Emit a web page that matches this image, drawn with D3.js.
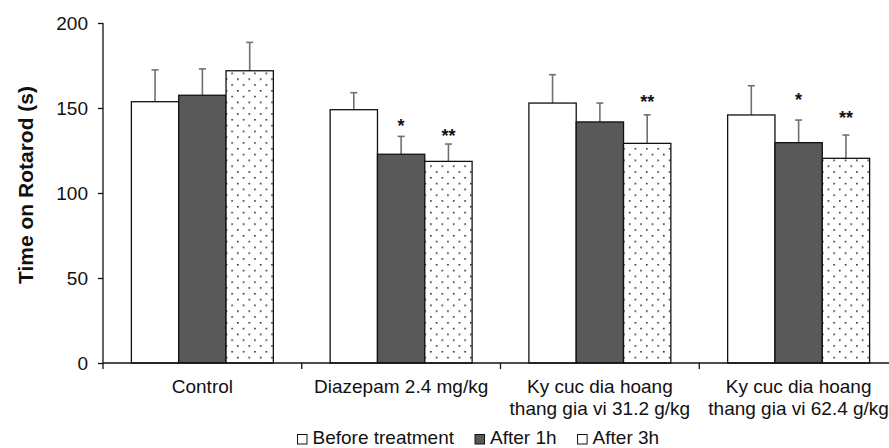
<!DOCTYPE html>
<html>
<head>
<meta charset="utf-8">
<script src="https://cdn.jsdelivr.net/npm/d3@7"></script>
<style>
  html, body { margin: 0; padding: 0; background: #fff; }
  svg { display: block; font-family: "Liberation Sans", Arial, sans-serif; }
</style>
</head>
<body>
<svg id="chart" width="889" height="448"></svg>
<script>
// ---- data ----
const categories = [
  ["Control"],
  ["Diazepam 2.4 mg/kg"],
  ["Ky cuc dia hoang", "thang gia vi 31.2 g/kg"],
  ["Ky cuc dia hoang", "thang gia vi 62.4 g/kg"]
];
const seriesNames = ["Before treatment", "After 1h", "After 3h"];
const beforeValues = [153.7, 149.0, 152.9, 145.9];
const after1hValues = [157.5, 122.8, 141.8, 129.6];
const after3hValues = [171.9, 118.6, 129.2, 120.4];
const beforeErr = [18.7, 10.0, 16.7, 17.2];
const after1hErr = [15.5, 10.5, 11.1, 13.3];
const after3hErr = [16.7, 10.2, 16.8, 13.7];
const after1hSig = ["", "*", "", "*"];
const after3hSig = ["", "**", "**", "**"];
const after1hSigY = [0, 141.8, 0, 157.0];
const after3hSigY = [0, 135.7, 156.0, 146.5];
const yTicks = [0, 50, 100, 150, 200];

const seriesValues = [beforeValues, after1hValues, after3hValues];
const seriesErr = [beforeErr, after1hErr, after3hErr];
const seriesSig = [["", "", "", ""], after1hSig, after3hSig];
const seriesSigY = [[0, 0, 0, 0], after1hSigY, after3hSigY];

// ---- layout ----
const svg = d3.select("#chart");
const mLeft = 103, mRight = 898, mTop = 23, mBottom = 363;
const fontSize = 19;

const x0 = d3.scaleBand().domain(d3.range(categories.length)).range([mLeft, mRight]).paddingInner(0).paddingOuter(0);
const x1 = d3.scaleBand().domain(d3.range(seriesNames.length)).range([0, x0.bandwidth()]).paddingInner(0).paddingOuter(0.6);
const y = d3.scaleLinear().domain([0, 200]).range([mBottom, mTop]);

// pattern
const defs = svg.append("defs");
const pat = defs.append("pattern").attr("id", "dots").attr("patternUnits", "userSpaceOnUse")
  .attr("width", 11.4).attr("height", 11.6).attr("x", 2).attr("y", 2);
pat.append("rect").attr("width", 11.4).attr("height", 11.6).attr("fill", "#fff");
pat.append("rect").attr("x", 1).attr("y", 1).attr("width", 1.5).attr("height", 1.5).attr("fill", "#111");
pat.append("rect").attr("x", 6.7).attr("y", 6.8).attr("width", 1.5).attr("height", 1.5).attr("fill", "#111");

const fills = ["#ffffff", "#595959", "url(#dots)"];
const legendFills = ["#ffffff", "#595959", "#ffffff"];

// bars
const groups = svg.append("g").selectAll("g").data(categories).join("g")
  .attr("transform", (d, i) => `translate(${x0(i)},0)`);

seriesNames.forEach((s, si) => {
  groups.append("line")
    .attr("x1", (d, i) => x1(si) + x1.bandwidth() / 2)
    .attr("x2", (d, i) => x1(si) + x1.bandwidth() / 2)
    .attr("y1", (d, i) => y(seriesValues[si][i]))
    .attr("y2", (d, i) => y(seriesValues[si][i] + seriesErr[si][i]))
    .attr("stroke", "#707070").attr("stroke-width", 1.6);
  groups.append("line")
    .attr("x1", (d, i) => x1(si) + x1.bandwidth() / 2 - 3.5)
    .attr("x2", (d, i) => x1(si) + x1.bandwidth() / 2 + 3.5)
    .attr("y1", (d, i) => y(seriesValues[si][i] + seriesErr[si][i]))
    .attr("y2", (d, i) => y(seriesValues[si][i] + seriesErr[si][i]))
    .attr("stroke", "#707070").attr("stroke-width", 1.6);
});
seriesNames.forEach((s, si) => {
  groups.append("rect")
    .attr("x", x1(si))
    .attr("width", x1.bandwidth())
    .attr("y", (d, i) => y(seriesValues[si][i]))
    .attr("height", (d, i) => y(0) - y(seriesValues[si][i]))
    .attr("fill", fills[si])
    .attr("stroke", "#111").attr("stroke-width", 1.3);
  groups.append("text")
    .attr("x", x1(si) + x1.bandwidth() / 2)
    .attr("y", (d, i) => y(seriesSigY[si][i]) + 10)
    .attr("text-anchor", "middle")
    .attr("font-size", 18).attr("font-weight", "bold").attr("fill", "#111")
    .text((d, i) => seriesSig[si][i]);
});

// y axis
const yAxis = svg.append("g").attr("transform", `translate(${mLeft},0)`)
  .call(d3.axisLeft(y).tickValues(yTicks).tickSize(5).tickPadding(10).tickFormat(d3.format("d")));
yAxis.select(".domain").attr("stroke", "#111").attr("stroke-width", 1.3).attr("d", `M0,${mTop}V${mBottom}`);
yAxis.selectAll(".tick line").attr("stroke", "#111").attr("stroke-width", 1.3);
yAxis.selectAll(".tick text").attr("font-size", fontSize).attr("fill", "#111")
  .attr("font-family", "Liberation Sans, Arial, sans-serif");

// x axis
const xAxis = svg.append("g").attr("transform", `translate(0,${mBottom})`)
  .call(d3.axisBottom(x0).tickSize(0).tickFormat(""));
xAxis.select(".domain").attr("stroke", "#111").attr("stroke-width", 1.3).attr("d", `M${mLeft},0H${mRight}`);
const bounds = d3.range(categories.length).map(i => x0(i)).concat([x0(categories.length - 1) + x0.bandwidth()]);
xAxis.selectAll(".bound").data(bounds).join("line").attr("class", "bound")
  .attr("x1", d => d).attr("x2", d => d).attr("y1", 0).attr("y2", 6)
  .attr("stroke", "#111").attr("stroke-width", 1.3);
const lbl = svg.append("g").selectAll("text").data(categories).join("text")
  .attr("text-anchor", "middle").attr("font-size", fontSize).attr("fill", "#111")
  .attr("x", (d, i) => x0(i) + x0.bandwidth() / 2).attr("y", 393);
lbl.selectAll("tspan").data(d => d).join("tspan")
  .attr("x", function () { return this.parentNode.getAttribute("x"); })
  .attr("dy", (d, j) => j === 0 ? 0 : 22)
  .text(d => d);

// y label
svg.append("text").attr("transform", `translate(33,185) rotate(-90)`)
  .attr("text-anchor", "middle").attr("font-size", 21).attr("font-weight", "bold").attr("fill", "#111")
  .text("Time on Rotarod (s)");

// legend
const legend = svg.append("g");
let lx = 297.5;
seriesNames.forEach((s, si) => {
  legend.append("rect").attr("x", lx).attr("y", 434.5).attr("width", 9.5).attr("height", 9.5)
    .attr("fill", legendFills[si]).attr("stroke", "#111").attr("stroke-width", 1);
  const t = legend.append("text").attr("x", lx + 15).attr("y", 444).attr("font-size", fontSize).attr("fill", "#111").text(s);
  lx = lx + 15 + t.node().getComputedTextLength() + 21;
});
</script>
</body>
</html>
